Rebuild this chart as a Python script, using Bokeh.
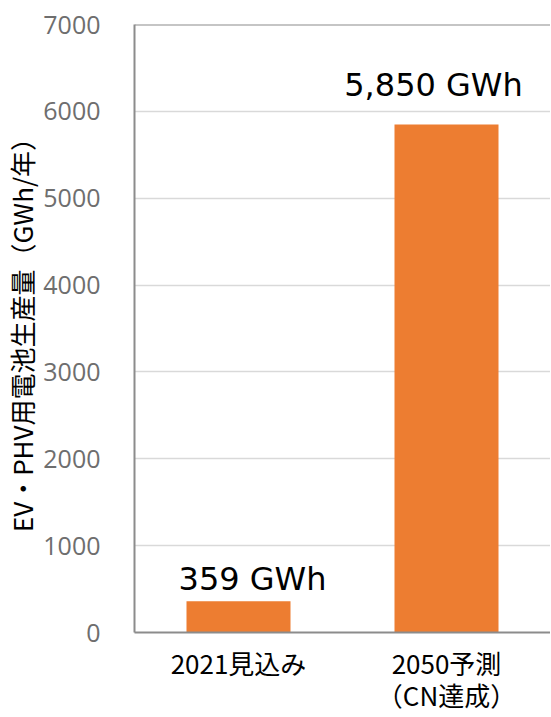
from bokeh.plotting import figure
from bokeh.models import ColumnDataSource, Range1d, FactorRange, Span
from bokeh.core.properties import value
from bokeh.embed import file_html
from bokeh.resources import INLINE

categories = ["2021見込み", "2050予測\n（CN達成）"]
values = [359, 5850]
value_labels = ["359 GWh", "5,850 GWh"]
y_ticks = [0, 1000, 2000, 3000, 4000, 5000, 6000, 7000]

label_x_offsets = [14, -13]
label_y_offsets = [-3, -20]

src = ColumnDataSource(dict(cat=categories, val=values, lab=value_labels,
                            xo=label_x_offsets, yo=label_y_offsets))

p = figure(width=550, height=716, output_backend="svg", toolbar_location=None,
           x_range=FactorRange(*categories), y_range=Range1d(0, 7000),
           min_border_left=134, min_border_right=0, min_border_top=24, min_border_bottom=84)
p.outline_line_color = None
p.background_fill_color = "white"

p.vbar(x="cat", top="val", width=0.5, source=src, color="#ED7D31", line_color=None)
p.text(x="cat", y="val", text="lab", x_offset="xo", y_offset="yo", source=src,
       text_align="center", text_baseline="bottom",
       text_font=value("DejaVu Sans"), text_font_size="32px", text_color="#000000")

p.add_layout(Span(location=y_ticks[-1], dimension="width", line_color="#8c8c8c", line_width=2))

p.xgrid.grid_line_color = None
p.ygrid.grid_line_color = "#d9d9d9"
p.ygrid.grid_line_width = 1.5

p.yaxis.ticker = y_ticks
p.yaxis.axis_line_color = "#8c8c8c"
p.yaxis.axis_line_width = 2
p.yaxis.major_tick_line_color = None
p.yaxis.minor_tick_line_color = None
p.yaxis.major_label_text_font = "Open Sans"
p.yaxis.major_label_text_font_size = "25px"
p.yaxis.major_label_text_color = "#6e6e6e"
p.yaxis.major_label_standoff = 28
p.yaxis.axis_label = "EV・PHV用電池生産量（GWh/年）"
p.yaxis.axis_label_text_font = "Noto Sans CJK JP"
p.yaxis.axis_label_text_font_size = "26px"
p.yaxis.axis_label_text_font_style = "normal"
p.yaxis.axis_label_text_color = "#000000"
p.yaxis.axis_label_standoff = 0

p.xaxis.axis_line_color = "#8c8c8c"
p.xaxis.axis_line_width = 2
p.xaxis.major_tick_line_color = None
p.xaxis.minor_tick_line_color = None
p.xaxis.major_label_text_font = "Noto Sans CJK JP"
p.xaxis.major_label_text_font_size = "26px"
p.xaxis.major_label_text_line_height = 0.88
p.xaxis.major_label_text_color = "#000000"
p.xaxis.major_label_standoff = 5

open("out.html", "w").write(file_html(p, INLINE))
